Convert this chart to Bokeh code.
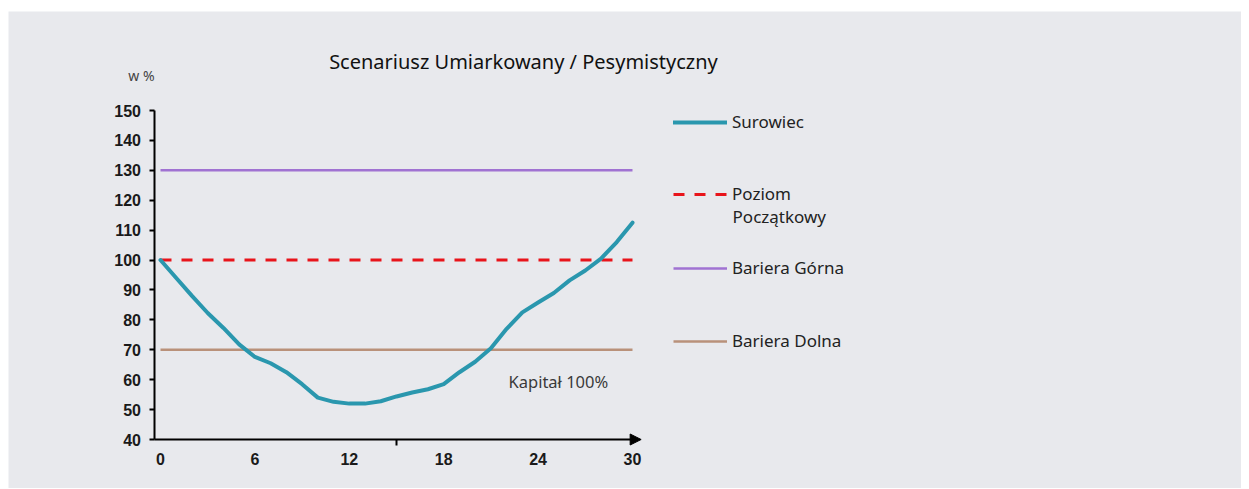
from bokeh.plotting import figure
from bokeh.layouts import column, row
from bokeh.models import (Range1d, FixedTicker, Label, Legend, LegendItem, Arrow, NormalHead, Spacer)
from bokeh.embed import file_html
from bokeh.resources import INLINE

# ---- data ----
months = [0, 1, 2, 3, 4, 5, 6, 7, 8, 9, 10, 11, 12, 13, 14, 15,
          16, 17, 18, 19, 20, 21, 22, 23, 24, 25, 26, 27, 28, 29, 30]
surowiec = [100, 94, 88, 82.3, 77.3, 71.8, 67.6, 65.5, 62.5, 58.5, 54, 52.6, 52, 52, 52.8, 54.4,
            55.7, 56.8, 58.5, 62.5, 66, 70.5, 77, 82.5, 85.8, 89, 93.2, 96.5, 100.5, 106, 112.5]
line_x = [0, 30]
poziom_poczatkowy = [100, 100]
bariera_gorna = [130, 130]
bariera_dolna = [70, 70]
x_ticks = [0, 6, 12, 18, 24, 30]
y_ticks = [40, 50, 60, 70, 80, 90, 100, 110, 120, 130, 140, 150]

BG = "#e8e9ed"
FONT = "Noto Sans"
TICKFONT = "Liberation Sans"

p = figure(width=1233, height=477, output_backend="svg", toolbar_location=None, title=None,
           x_range=Range1d(-9.661, 68.708), y_range=Range1d(23.62, 183.1),
           min_border=0)
p.background_fill_color = BG
p.border_fill_color = BG
p.outline_line_color = None
p.grid.visible = False

r_gorna = p.line(line_x, bariera_gorna, line_color="#a072d2", line_width=2.5)
r_dolna = p.line(line_x, bariera_dolna, line_color="#b9917a", line_width=2.5)
r_pozi = p.line(line_x, poziom_poczatkowy, line_color="#e8141b", line_width=3, line_dash="11 10")
r_sur = p.line(months, surowiec, line_color="#2a97ae", line_width=4, line_join="round", line_cap="round")

# axes (drawn at fixed data locations)
xa = p.xaxis[0]
xa.fixed_location = 40
xa.bounds = (-0.413, 30.3)
xa.ticker = FixedTicker(ticks=x_ticks, minor_ticks=[15])
xa.major_tick_line_color = None
xa.major_tick_out = 6
xa.major_tick_in = 0
xa.minor_tick_out = 6
xa.minor_tick_in = 0
xa.minor_tick_line_color = "black"
xa.minor_tick_line_width = 2
xa.axis_line_color = "black"
xa.axis_line_width = 2
xa.major_label_standoff = 7
xa.major_label_text_font = TICKFONT
xa.major_label_text_font_size = "16px"
xa.major_label_text_font_style = "bold"
xa.major_label_text_color = "#1a1a1a"

ya = p.yaxis[0]
ya.fixed_location = -0.413
ya.bounds = (40, 150)
ya.ticker = FixedTicker(ticks=y_ticks, minor_ticks=[])
ya.major_tick_out = 5
ya.major_tick_in = 0
ya.major_tick_line_color = "black"
ya.major_tick_line_width = 2
ya.axis_line_color = "black"
ya.axis_line_width = 2
ya.major_label_standoff = 8
ya.major_label_text_font = TICKFONT
ya.major_label_text_font_size = "16px"
ya.major_label_text_font_style = "bold"
ya.major_label_text_color = "#1a1a1a"

# arrow at end of x axis
p.add_layout(Arrow(end=NormalHead(size=11, fill_color="black", line_color="black"),
                   x_start=29.9, y_start=40, x_end=30.55, y_end=40,
                   line_color="black", line_width=2))

# texts
p.add_layout(Label(x=23.07, y=166.4, text="Scenariusz Umiarkowany / Pesymistyczny",
                   text_align="center", text_baseline="middle", text_font=FONT,
                   text_font_size="20px", text_color="#111111"))
p.add_layout(Label(x=-1.21, y=161.7, text="w %", text_align="center", text_baseline="middle",
                   text_font=FONT, text_font_size="14px", text_color="#444444"))
p.add_layout(Label(x=22.12, y=59.4, text="Kapitał 100%", text_align="left",
                   text_baseline="middle", text_font=FONT, text_font_size="16.5px",
                   text_color="#3a3a3a"))
p.add_layout(Label(x=36.36, y=114.56, text="Początkowy", text_align="left",
                   text_baseline="middle", text_font=FONT, text_font_size="17px",
                   text_color="#222222"))

# legends
def add_leg(label, renderer, x, y):
    leg = Legend(items=[LegendItem(label=label, renderers=[renderer])],
                 location=(x, y), padding=0, margin=0, border_line_color=None,
                 background_fill_alpha=0, glyph_width=54, glyph_height=20,
                 label_height=20, label_standoff=5, label_text_font=FONT,
                 label_text_font_size="17px", label_text_color="#222222")
    p.add_layout(leg, "center")

add_leg("Surowiec", r_sur, 665, 355)
add_leg("Poziom", r_pozi, 665, 283)
add_leg("Bariera Górna", r_gorna, 665, 209)
add_leg("Bariera Dolna", r_dolna, 665, 136)

layout = column(Spacer(height=11), row(Spacer(width=8), p))
open("out.html", "w").write(file_html(layout, INLINE))
